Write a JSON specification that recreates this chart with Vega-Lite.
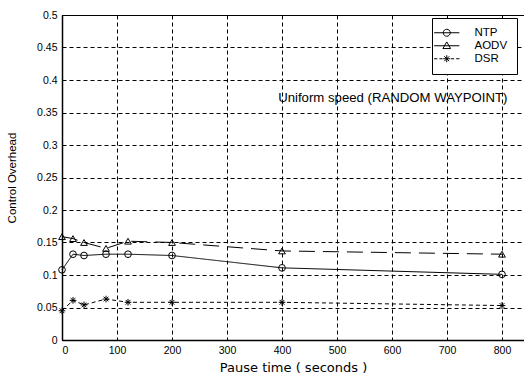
{
  "$schema": "https://vega.github.io/schema/vega-lite/v6.json",
  "width": 462,
  "height": 325,
  "autosize": {"type": "none"},
  "padding": {"left": 62, "top": 15, "right": 0, "bottom": 36},
  "background": "white",
  "config": {
    "font": "Liberation Sans",
    "view": {"stroke": "black", "strokeWidth": 1},
    "axis": {
      "domainColor": "black",
      "domainWidth": 1.5,
      "grid": true,
      "gridColor": "black",
      "gridDash": [4, 3],
      "gridWidth": 1,
      "gridOpacity": 1,
      "tickSize": 0,
      "labelColor": "black",
      "labelFont": "Liberation Sans",
      "labelFontSize": 10.5,
      "titleColor": "black",
      "titleFont": "Liberation Sans",
      "titleFontWeight": "normal"
    }
  },
  "datasets": {
    "overhead": [
      {"pause": 0, "overhead": 0.108, "protocol": "NTP"},
      {"pause": 20, "overhead": 0.132, "protocol": "NTP"},
      {"pause": 40, "overhead": 0.130, "protocol": "NTP"},
      {"pause": 80, "overhead": 0.132, "protocol": "NTP"},
      {"pause": 120, "overhead": 0.132, "protocol": "NTP"},
      {"pause": 200, "overhead": 0.130, "protocol": "NTP"},
      {"pause": 400, "overhead": 0.111, "protocol": "NTP"},
      {"pause": 800, "overhead": 0.101, "protocol": "NTP"},
      {"pause": 0, "overhead": 0.159, "protocol": "AODV"},
      {"pause": 20, "overhead": 0.156, "protocol": "AODV"},
      {"pause": 40, "overhead": 0.150, "protocol": "AODV"},
      {"pause": 80, "overhead": 0.141, "protocol": "AODV"},
      {"pause": 120, "overhead": 0.152, "protocol": "AODV"},
      {"pause": 200, "overhead": 0.150, "protocol": "AODV"},
      {"pause": 400, "overhead": 0.137, "protocol": "AODV"},
      {"pause": 800, "overhead": 0.132, "protocol": "AODV"},
      {"pause": 0, "overhead": 0.045, "protocol": "DSR"},
      {"pause": 20, "overhead": 0.061, "protocol": "DSR"},
      {"pause": 40, "overhead": 0.054, "protocol": "DSR"},
      {"pause": 80, "overhead": 0.063, "protocol": "DSR"},
      {"pause": 120, "overhead": 0.058, "protocol": "DSR"},
      {"pause": 200, "overhead": 0.058, "protocol": "DSR"},
      {"pause": 400, "overhead": 0.058, "protocol": "DSR"},
      {"pause": 800, "overhead": 0.053, "protocol": "DSR"}
    ]
  },
  "data": {"name": "overhead"},
  "encoding": {
    "x": {
      "field": "pause",
      "type": "quantitative",
      "scale": {"domain": [0, 840], "nice": false, "zero": false},
      "axis": {
        "values": [0, 100, 200, 300, 400, 500, 600, 700, 800],
        "title": "Pause time ( seconds )",
        "titleFont": "DejaVu Sans",
        "titleFontSize": 13,
        "labelPadding": 5,
        "titleY": 27,
        "titleBaseline": "middle"
      }
    },
    "y": {
      "field": "overhead",
      "type": "quantitative",
      "scale": {"domain": [0, 0.5], "nice": false},
      "axis": {
        "values": [0, 0.05, 0.1, 0.15, 0.2, 0.25, 0.3, 0.35, 0.4, 0.45, 0.5],
        "format": "~g",
        "title": "Control Overhead",
        "titleFontSize": 11.5,
        "labelPadding": 5,
        "titleX": -50,
        "titleBaseline": "middle"
      }
    }
  },
  "layer": [
    {
      "mark": {"type": "line", "color": "black", "strokeWidth": 1},
      "encoding": {
        "strokeDash": {
          "field": "protocol",
          "type": "nominal",
          "scale": {"domain": ["NTP", "AODV", "DSR"], "range": [[1, 0], [16, 8], [4, 3]]},
          "legend": null
        }
      }
    },
    {
      "mark": {"type": "point", "filled": false, "color": "black", "size": 45, "opacity": 1},
      "encoding": {
        "shape": {
          "field": "protocol",
          "type": "nominal",
          "scale": {
            "domain": ["NTP", "AODV", "DSR"],
            "range": ["circle", "triangle-up", "M0,-1V1M-1,0H1M-0.7,-0.7L0.7,0.7M-0.7,0.7L0.7,-0.7"]
          },
          "legend": null
        },
        "strokeWidth": {
          "field": "protocol",
          "type": "nominal",
          "scale": {"domain": ["NTP", "AODV", "DSR"], "range": [1, 1, 1.8]},
          "legend": null
        }
      }
    },
    {
      "mark": {"type": "point", "filled": false, "color": "black", "strokeWidth": 1, "opacity": 0},
      "encoding": {
        "shape": {
          "field": "protocol",
          "type": "nominal",
          "scale": {
            "domain": ["NTP", "AODV", "DSR"],
            "range": [
              "M-3.6,0H3.6M1,0A1,1,0,1,1,-1,0A1,1,0,1,1,1,0",
              "M-3.6,0H3.6M0,-1.1L1.1,0.8L-1.1,0.8Z",
              "M-3.6,0H-2.7M-2.1,0H-1.2M-1,0H1M1.2,0H2.1M2.7,0H3.6M0,-1V1M-0.7,-0.7L0.7,0.7M-0.7,0.7L0.7,-0.7"
            ]
          },
          "legend": {
            "title": null,
            "orient": "none",
            "legendX": 370,
            "legendY": 3,
            "direction": "vertical",
            "strokeColor": "black",
            "fillColor": "white",
            "padding": 9,
            "symbolSize": 49,
            "symbolOpacity": 1,
            "symbolStrokeColor": "black",
            "symbolStrokeWidth": 1,
            "symbolFillColor": "transparent",
            "labelFont": "Liberation Sans",
            "labelFontSize": 11.5,
            "labelColor": "black",
            "labelOffset": 22,
            "rowPadding": 0
          }
        }
      }
    },
    {
      "transform": [{"filter": "datum.pause === 0 && datum.protocol === 'NTP'"}],
      "mark": {"type": "text", "font": "Liberation Sans", "fontSize": 13.2, "color": "black", "align": "left", "baseline": "middle"},
      "encoding": {
        "x": {"datum": 393},
        "y": {"datum": 0.372},
        "text": {"value": "Uniform speed (RANDOM WAYPOINT)"}
      }
    }
  ],
  "resolve": {"scale": {"shape": "independent"}, "legend": {"shape": "independent"}}
}
